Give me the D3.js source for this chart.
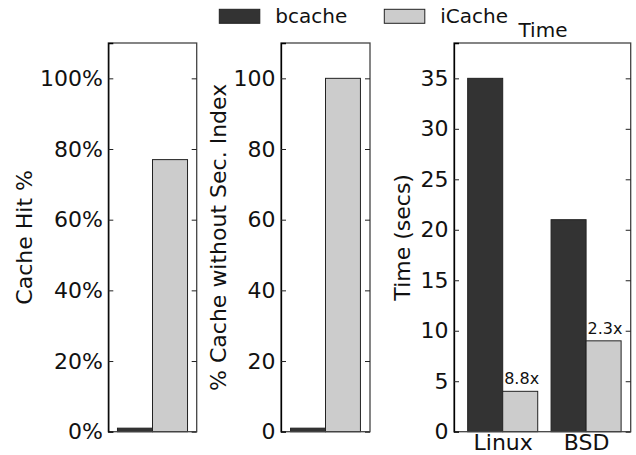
<!DOCTYPE html>
<html>
<head>
<meta charset="utf-8">
<script src="https://cdn.jsdelivr.net/npm/d3@7/dist/d3.min.js"></script>
<style>
  body { margin: 0; background: #fff; }
  svg { display: block; font-family: "DejaVu Sans", sans-serif; }
</style>
</head>
<body>
<svg id="chart" width="636" height="455"></svg>
<script>
// series names and colours
var systems = ["bcache", "iCache"];
var systemColors = ["#333333", "#cccccc"];

// panel 1: cache hit rate (fraction)
var hitRate = [0.01, 0.77];
var hitTicks = [0, 0.2, 0.4, 0.6, 0.8, 1.0];

// panel 2: % cache without secondary index
var noSecIndex = [1, 100];
var noSecTicks = [0, 20, 40, 60, 80, 100];

// panel 3: time in seconds
var osNames = ["Linux", "BSD"];
var timeBcache = [35, 21];
var timeICache = [4, 9];
var speedups = ["8.8x", "2.3x"];
var timeTicks = [0, 5, 10, 15, 20, 25, 30, 35];

var barWidth = 0.42;
var plotTop = 43, plotBottom = 431.7;
var svg = d3.select("#chart");

function drawPanel(opts) {
  var x = d3.scaleLinear().domain(opts.xDomain).range([opts.left, opts.right]);
  var y = d3.scaleLinear().domain([0, opts.yMax]).range([plotBottom, plotTop]);
  var g = svg.append("g");

  // bars
  opts.groups.forEach(function(group, gi) {
    group.values.forEach(function(v, si) {
      var x0 = gi + (si - 1) * barWidth;
      g.append("rect")
        .attr("x", x(x0))
        .attr("y", y(v))
        .attr("width", x(x0 + barWidth) - x(x0))
        .attr("height", y(0) - y(v))
        .attr("fill", systemColors[si])
        .attr("stroke", "#222")
        .attr("stroke-width", 1);
    });
  });

  // frame
  g.append("rect")
    .attr("x", opts.left).attr("y", plotTop)
    .attr("width", opts.right - opts.left)
    .attr("height", plotBottom - plotTop)
    .attr("fill", "none")
    .attr("stroke", "#444")
    .attr("stroke-width", 1.3);

  // left axis, inward ticks
  var yAxis = d3.axisLeft(y).tickValues(opts.ticks).tickSize(-5).tickPadding(5.5).tickFormat(opts.format);
  var ya = g.append("g").attr("transform", "translate(" + opts.left + ",0)").call(yAxis);
  ya.select(".domain").attr("stroke", "#000").attr("stroke-width", 1.3);
  ya.selectAll("text").attr("font-size", "22px").attr("font-family", "DejaVu Sans").attr("fill", "#111");
  ya.selectAll(".tick line").attr("stroke", "#222");

  // right side ticks only
  var ra = g.append("g").attr("transform", "translate(" + opts.right + ",0)")
    .call(d3.axisRight(y).tickValues(opts.ticks).tickSize(-5).tickFormat(""));
  ra.select(".domain").remove();
  ra.selectAll(".tick line").attr("stroke", "#222");

  // y label
  g.append("text")
    .attr("transform", "translate(" + opts.labelX + "," + ((plotTop + plotBottom) / 2) + ") rotate(-90)")
    .attr("text-anchor", "middle")
    .attr("font-size", "22px")
    .attr("fill", "#111")
    .text(opts.label);

  return { x: x, y: y, g: g };
}

// panel 1
drawPanel({
  left: 108.3, right: 196.7, xDomain: [-0.53, 0.53],
  yMax: 1.1, ticks: hitTicks, format: d3.format(".0%"),
  groups: [{ values: hitRate }],
  label: "Cache Hit %", labelX: 31.5
});

// panel 2
drawPanel({
  left: 281, right: 370, xDomain: [-0.535, 0.535],
  yMax: 110, ticks: noSecTicks, format: d3.format("d"),
  groups: [{ values: noSecIndex }],
  label: "% Cache without Sec. Index", labelX: 225.5
});

// panel 3
var timeGroups = osNames.map(function(name, i) {
  return { name: name, values: [timeBcache[i], timeICache[i]] };
});
var p3 = drawPanel({
  left: 454, right: 630.7, xDomain: [-0.584, 1.535],
  yMax: 38.5, ticks: timeTicks, format: d3.format("d"),
  groups: timeGroups,
  label: "Time (secs)", labelX: 410
});

// x labels for panel 3
var xa = p3.g.append("g").attr("transform", "translate(0," + plotBottom + ")")
  .call(d3.axisBottom(p3.x).tickValues([0, 1]).tickSize(0).tickPadding(3)
    .tickFormat(function(d) { return osNames[d]; }));
xa.select(".domain").remove();
xa.selectAll("text").attr("font-size", "22px").attr("font-family", "DejaVu Sans").attr("fill", "#111");

// speedup notes above iCache bars
timeICache.forEach(function(v, i) {
  p3.g.append("text")
    .attr("x", p3.x(i) + 1.5)
    .attr("y", p3.y(v) - 7)
    .attr("font-size", "16px")
    .attr("fill", "#111")
    .text(speedups[i]);
});

// title
svg.append("text")
  .attr("x", 543).attr("y", 36.7)
  .attr("text-anchor", "middle")
  .attr("font-size", "20px")
  .attr("fill", "#111")
  .text("Time");

// legend
var legendX = [219.3, 384.3];
systems.forEach(function(name, i) {
  svg.append("rect")
    .attr("x", legendX[i]).attr("y", 9.3)
    .attr("width", 40.5).attr("height", 14)
    .attr("fill", systemColors[i])
    .attr("stroke", "#222").attr("stroke-width", 1);
  svg.append("text")
    .attr("x", legendX[i] + 56)
    .attr("y", 23.3)
    .attr("font-size", "20px")
    .attr("fill", "#111")
    .text(name);
});
</script>
</body>
</html>
